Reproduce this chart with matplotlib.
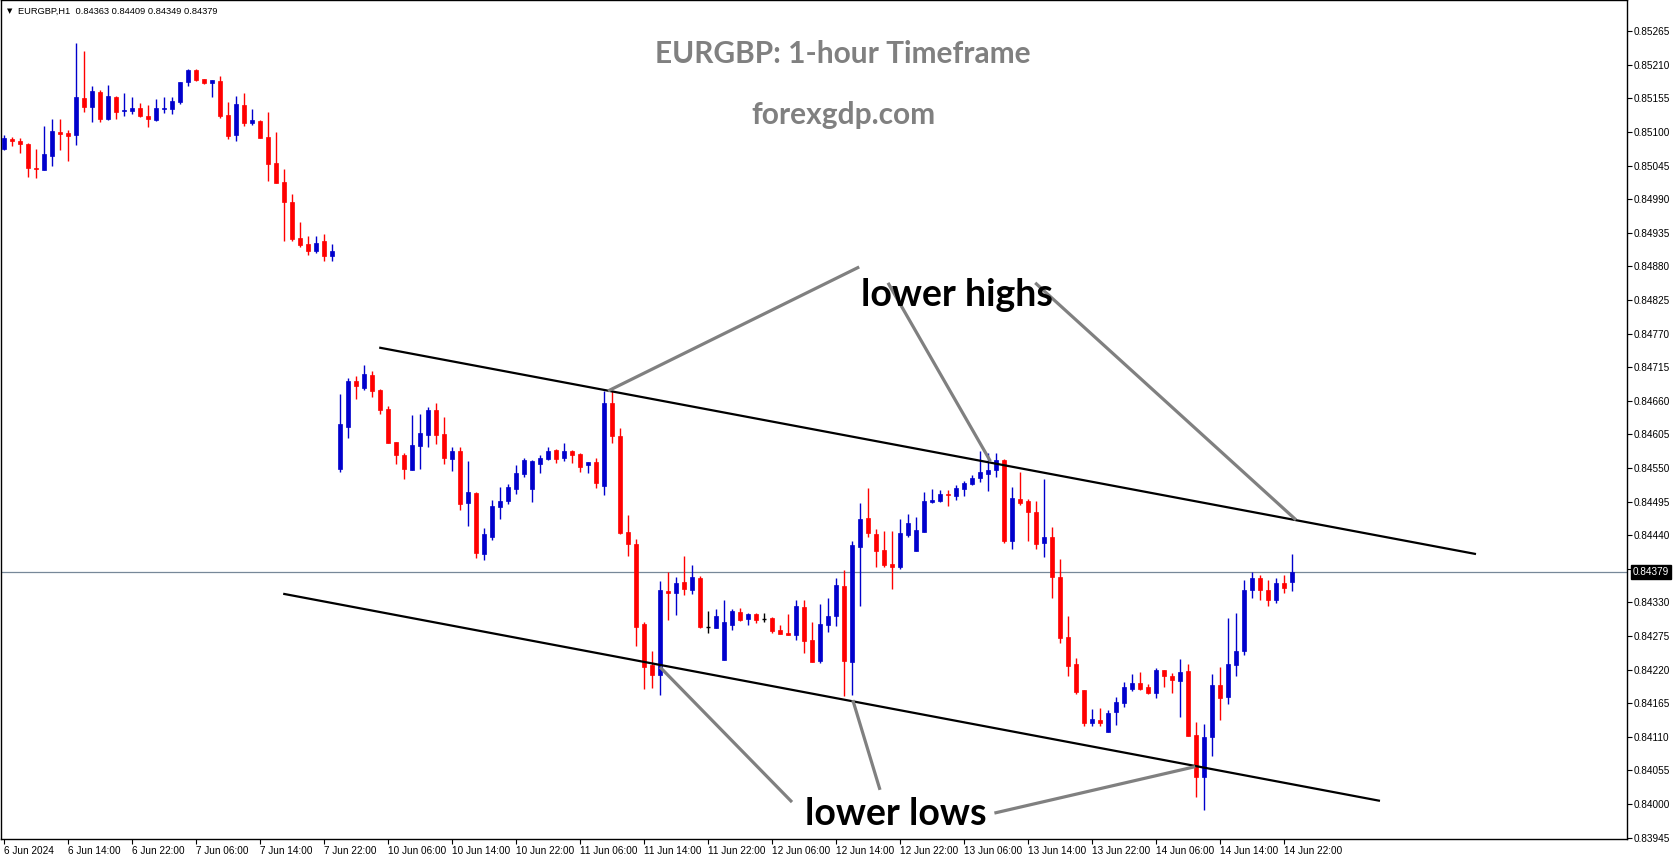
import matplotlib
matplotlib.use("Agg")
import matplotlib.pyplot as plt
import numpy as np

# ---------------- data (EURGBP H1, bars from 6 Jun 2024 06:00) ----------------
opens = [0.85072,0.85088,0.85085,0.85080,0.85041,0.85038,0.85061,0.85100,0.85098,0.85095,
         0.85156,0.85141,0.85165,0.85121,0.85157,0.85134,0.85134,0.85139,0.85126,0.85120,
         0.85137,0.85138,0.85149,0.85182,0.85201,0.85187,0.85180,0.85183,0.85128,0.85095,
         0.85144,0.85115,0.85118,0.85092,0.85049,0.85018,0.84985,0.84926,0.84917,0.84905,
         0.84921,0.84897,0.84548,0.84617,0.84692,0.84681,0.84702,0.84678,0.84647,0.84592,
         0.84571,0.84547,0.84586,0.84604,0.84645,0.84606,0.84565,0.84578,0.84493,0.84509,
         0.84409,0.84437,0.84486,0.84496,0.84516,0.84540,0.84516,0.84556,0.84565,0.84579,
         0.84566,0.84578,0.84573,0.84555,0.84560,0.84520,0.84656,0.84602,0.84445,0.84426,
         0.84295,0.84227,0.84211,0.84349,0.84345,0.84363,0.84350,0.84370,0.84290,0.84288,
         0.84236,0.84293,0.84314,0.84303,0.84311,0.84303,0.84304,0.84285,0.84280,0.84277,
         0.84322,0.84268,0.84234,0.84293,0.84308,0.84357,0.84232,0.84421,0.84468,0.84442,
         0.84416,0.84393,0.84388,0.84440,0.84414,0.84445,0.84494,0.84496,0.84507,0.84504,
         0.84516,0.84524,0.84533,0.84540,0.84547,0.84563,0.84430,0.84499,0.84496,0.84478,
         0.84427,0.84437,0.84371,0.84273,0.84229,0.84186,0.84132,0.84137,0.84118,0.84150,
         0.84165,0.84188,0.84198,0.84191,0.84182,0.84219,0.84209,0.84201,0.84218,0.84113,
         0.84044,0.84110,0.84195,0.84175,0.84227,0.84250,0.84350,0.84370,0.84350,0.84334,
         0.84362,0.84363]
highs = [0.85095,0.85092,0.85090,0.85082,0.85072,0.85110,0.85121,0.85121,0.85103,0.85246,
         0.85233,0.85175,0.85169,0.85177,0.85159,0.85164,0.85157,0.85147,0.85144,0.85154,
         0.85157,0.85157,0.85182,0.85203,0.85203,0.85187,0.85185,0.85192,0.85149,0.85159,
         0.85164,0.85138,0.85120,0.85133,0.85100,0.85039,0.84998,0.84953,0.84930,0.84930,
         0.84933,0.84917,0.84671,0.84697,0.84700,0.84719,0.84709,0.84679,0.84651,0.84592,
         0.84574,0.84637,0.84638,0.84650,0.84656,0.84633,0.84584,0.84584,0.84561,0.84511,
         0.84452,0.84498,0.84519,0.84524,0.84555,0.84566,0.84563,0.84571,0.84584,0.84581,
         0.84591,0.84579,0.84574,0.84560,0.84566,0.84676,0.84676,0.84615,0.84473,0.84434,
         0.84298,0.84250,0.84365,0.84380,0.84371,0.84406,0.84391,0.84373,0.84316,0.84319,
         0.84334,0.84319,0.84321,0.84313,0.84313,0.84313,0.84306,0.84293,0.84311,0.84334,
         0.84334,0.84298,0.84327,0.84337,0.84370,0.84383,0.84430,0.84493,0.84517,0.84450,
         0.84447,0.84447,0.84466,0.84475,0.84470,0.84511,0.84516,0.84514,0.84514,0.84522,
         0.84529,0.84538,0.84578,0.84574,0.84574,0.84565,0.84519,0.84543,0.84499,0.84496,
         0.84532,0.84453,0.84401,0.84308,0.84239,0.84186,0.84155,0.84157,0.84154,0.84175,
         0.84200,0.84213,0.84216,0.84196,0.84223,0.84219,0.84214,0.84237,0.84229,0.84134,
         0.84131,0.84213,0.84224,0.84304,0.84313,0.84367,0.84380,0.84375,0.84367,0.84370,
         0.84375,0.84409]
lows = [0.85070,0.85077,0.85066,0.85026,0.85025,0.85038,0.85044,0.85070,0.85052,0.85079,
        0.85133,0.85116,0.85116,0.85120,0.85121,0.85126,0.85129,0.85125,0.85108,0.85118,
        0.85131,0.85129,0.85146,0.85175,0.85183,0.85178,0.85157,0.85123,0.85088,0.85085,
        0.85110,0.85111,0.85090,0.85020,0.85016,0.84921,0.84921,0.84912,0.84899,0.84902,
        0.84889,0.84889,0.84543,0.84599,0.84663,0.84678,0.84666,0.84638,0.84591,0.84556,
        0.84532,0.84547,0.84548,0.84584,0.84589,0.84556,0.84545,0.84481,0.84455,0.84403,
        0.84399,0.84432,0.84466,0.84491,0.84507,0.84535,0.84494,0.84542,0.84563,0.84558,
        0.84561,0.84558,0.84543,0.84542,0.84517,0.84506,0.84591,0.84442,0.84406,0.84259,
        0.84188,0.84190,0.84178,0.84301,0.84309,0.84342,0.84344,0.84288,0.84280,0.84288,
        0.84236,0.84285,0.84299,0.84293,0.84296,0.84298,0.84280,0.84278,0.84277,0.84268,
        0.84247,0.84232,0.84231,0.84281,0.84291,0.84177,0.84178,0.84324,0.84437,0.84388,
        0.84388,0.84352,0.84385,0.84437,0.84414,0.84445,0.84493,0.84494,0.84488,0.84498,
        0.84504,0.84522,0.84527,0.84512,0.84535,0.84427,0.84417,0.84489,0.84430,0.84417,
        0.84404,0.84337,0.84263,0.84209,0.84180,0.84127,0.84127,0.84127,0.84118,0.84129,
        0.84159,0.84185,0.84186,0.84180,0.84173,0.84191,0.84182,0.84142,0.84111,0.84011,
        0.83990,0.84079,0.84137,0.84164,0.84209,0.84244,0.84337,0.84334,0.84324,0.84329,
        0.84346,0.84349]
closes = [0.85090,0.85085,0.85080,0.85041,0.85039,0.85064,0.85102,0.85097,0.85093,0.85157,
          0.85141,0.85167,0.85121,0.85159,0.85133,0.85136,0.85139,0.85126,0.85121,0.85139,
          0.85139,0.85151,0.85182,0.85201,0.85185,0.85180,0.85185,0.85126,0.85093,0.85146,
          0.85115,0.85120,0.85090,0.85048,0.85016,0.84985,0.84925,0.84915,0.84905,0.84918,
          0.84897,0.84905,0.84622,0.84692,0.84684,0.84704,0.84676,0.84645,0.84591,0.84571,
          0.84548,0.84588,0.84607,0.84645,0.84604,0.84566,0.84578,0.84491,0.84511,0.84411,
          0.84442,0.84488,0.84496,0.84519,0.84542,0.84563,0.84561,0.84566,0.84578,0.84565,
          0.84578,0.84571,0.84552,0.84560,0.84525,0.84656,0.84602,0.84443,0.84426,0.84290,
          0.84224,0.84211,0.84350,0.84345,0.84362,0.84352,0.84371,0.84290,0.84290,0.84308,
          0.84298,0.84316,0.84301,0.84311,0.84301,0.84303,0.84283,0.84278,0.84277,0.84324,
          0.84267,0.84232,0.84295,0.84308,0.84358,0.84234,0.84424,0.84466,0.84443,0.84414,
          0.84391,0.84388,0.84443,0.84460,0.84448,0.84496,0.84498,0.84507,0.84506,0.84517,
          0.84525,0.84533,0.84543,0.84547,0.84563,0.84430,0.84501,0.84493,0.84478,0.84426,
          0.84437,0.84371,0.84272,0.84226,0.84183,0.84132,0.84139,0.84132,0.84149,0.84167,
          0.84191,0.84198,0.84188,0.84182,0.84219,0.84209,0.84203,0.84216,0.84111,0.84044,
          0.84110,0.84195,0.84173,0.84229,0.84250,0.84350,0.84370,0.84350,0.84334,0.84362,
          0.84354,0.84379]

time_labels = ["6 Jun 2024", "6 Jun 14:00", "6 Jun 22:00", "7 Jun 06:00", "7 Jun 14:00",
               "7 Jun 22:00", "10 Jun 06:00", "10 Jun 14:00", "10 Jun 22:00", "11 Jun 06:00",
               "11 Jun 14:00", "11 Jun 22:00", "12 Jun 06:00", "12 Jun 14:00", "12 Jun 22:00",
               "13 Jun 06:00", "13 Jun 14:00", "13 Jun 22:00", "14 Jun 06:00", "14 Jun 14:00",
               "14 Jun 22:00"]
price_ticks = [0.85265, 0.85210, 0.85155, 0.85100, 0.85045, 0.84990, 0.84935, 0.84880,
               0.84825, 0.84770, 0.84715, 0.84660, 0.84605, 0.84550, 0.84495, 0.84440,
               0.84385, 0.84330, 0.84275, 0.84220, 0.84165, 0.84110, 0.84055, 0.84000,
               0.83945]
last_price = 0.84379

# channel lines (bar index, price)
upper_x = [46.9, 184.0]
upper_y = [0.84747, 0.84409]
lower_x = [34.9, 172.0]
lower_y = [0.84344, 0.84005]

# annotation pointer lines (bar index, price)
highs_lines_x = [[106.9, 75.5], [110.5, 123.3], [128.9, 161.5]]
highs_lines_y = [[0.84879, 0.84676], [0.84853, 0.84561], [0.84853, 0.84465]]
lows_lines_x = [[98.5, 82.0], [109.5, 106.1], [123.8, 148.9]]
lows_lines_y = [[0.84003, 0.84224], [0.84023, 0.84170], [0.83985, 0.84061]]

# ---------------- figure ----------------
W, H = 1673, 861
fig = plt.figure(figsize=(W / 100, H / 100), dpi=100)
fig.patch.set_facecolor("white")
plot_left_px, plot_right_px, plot_top_px, plot_bottom_px = 1, 1627, 0, 839
ax = fig.add_axes([plot_left_px / W, (H - plot_bottom_px) / H,
                   (plot_right_px - plot_left_px) / W, (plot_bottom_px - plot_top_px) / H])
ax.set_facecolor("white")

n = len(opens)
xs = np.arange(n)
BLUE = "#0000CC"
RED = "#FF0000"

for i in range(n):
    o, h, l, c = opens[i], highs[i], lows[i], closes[i]
    if abs(c - o) < 1e-9:
        col = "black"
    elif c > o:
        col = BLUE
    else:
        col = RED
    ax.vlines(xs[i], l, h, color=col, lw=1.0, zorder=3)
    if abs(c - o) < 1e-9:
        ax.hlines(o, xs[i] - 0.3, xs[i] + 0.3, color=col, lw=1.0, zorder=3)
    else:
        ax.bar(xs[i], c - o, bottom=o, width=0.55, color=col, edgecolor=col,
               linewidth=0.5, zorder=4)

# current price line
ax.axhline(last_price, color="#778899", lw=0.9, zorder=2)

# channel lines
ax.plot(upper_x, upper_y, color="black", lw=1.6, zorder=5, solid_capstyle="butt")
ax.plot(lower_x, lower_y, color="black", lw=1.6, zorder=5, solid_capstyle="butt")

# pointer lines
for lx, ly in zip(highs_lines_x + lows_lines_x, highs_lines_y + lows_lines_y):
    ax.plot(lx, ly, color="#808080", lw=2.3, zorder=6, solid_capstyle="butt")

# annotation text
ax.text(119.1, 0.84815, "lower highs", fontsize=27, fontweight="bold",
        family="Lato", ha="center", va="baseline", color="black", zorder=7)
ax.text(111.5, 0.83966, "lower lows", fontsize=27, fontweight="bold",
        family="Lato", ha="center", va="baseline", color="black", zorder=7)

# titles
ax.text(0.518, 1 - 63 / 839, "EURGBP: 1-hour Timeframe", transform=ax.transAxes,
        fontsize=21.5, fontweight="bold", family="Lato", color="#808080",
        ha="center", va="baseline")
ax.text(0.518, 1 - 124 / 839, "forexgdp.com", transform=ax.transAxes,
        fontsize=21.5, fontweight="bold", family="Lato", color="#808080",
        ha="center", va="baseline")

# axes limits
px_per_bar = 8.0
xmin = -3.0 / px_per_bar
xmax = xmin + (plot_right_px - plot_left_px) / px_per_bar
ax.set_xlim(xmin, xmax)
price_per_px = 0.00001637
ytop = 0.85316
ax.set_ylim(ytop - (plot_bottom_px - plot_top_px) * price_per_px, ytop)

# y axis on the right
ax.yaxis.tick_right()
ax.set_yticks(price_ticks)
ax.set_yticklabels([f"{p:.5f}" for p in price_ticks])
ax.tick_params(axis="y", direction="out", length=3.5, width=0.8, pad=1.5,
               labelsize=7.2, colors="black")
for lbl in ax.get_yticklabels():
    lbl.set_family("Liberation Sans")

# x axis
ax.set_xticks(np.arange(0, n, 8)[:len(time_labels)])
ax.set_xticklabels(time_labels)
ax.tick_params(axis="x", direction="out", length=3.5, width=0.8, pad=1.5,
               labelsize=7.2, colors="black")
for lbl in ax.get_xticklabels():
    lbl.set_family("Liberation Sans")
    lbl.set_ha("left")

for s in ax.spines.values():
    s.set_color("black")
    s.set_linewidth(1.0)

# last price label box
ax.annotate(f"{last_price:.5f}", xy=(1.0, last_price), xycoords=("axes fraction", "data"),
            xytext=(4, 0), textcoords="offset points", ha="left", va="center",
            fontsize=7.2, family="Liberation Sans", color="white", zorder=10,
            bbox=dict(boxstyle="square,pad=0.2", fc="black", ec="black"))

# header
fig.text(7 / W, 1 - 11 / H, "\u25BC", fontsize=5, ha="left", va="center", color="black")
fig.text(18 / W, 1 - 11 / H, "EURGBP,H1  0.84363 0.84409 0.84349 0.84379",
         fontsize=6.7, family="Liberation Sans", ha="left", va="center", color="black")

fig.savefig("out.png", dpi=100, facecolor="white")
